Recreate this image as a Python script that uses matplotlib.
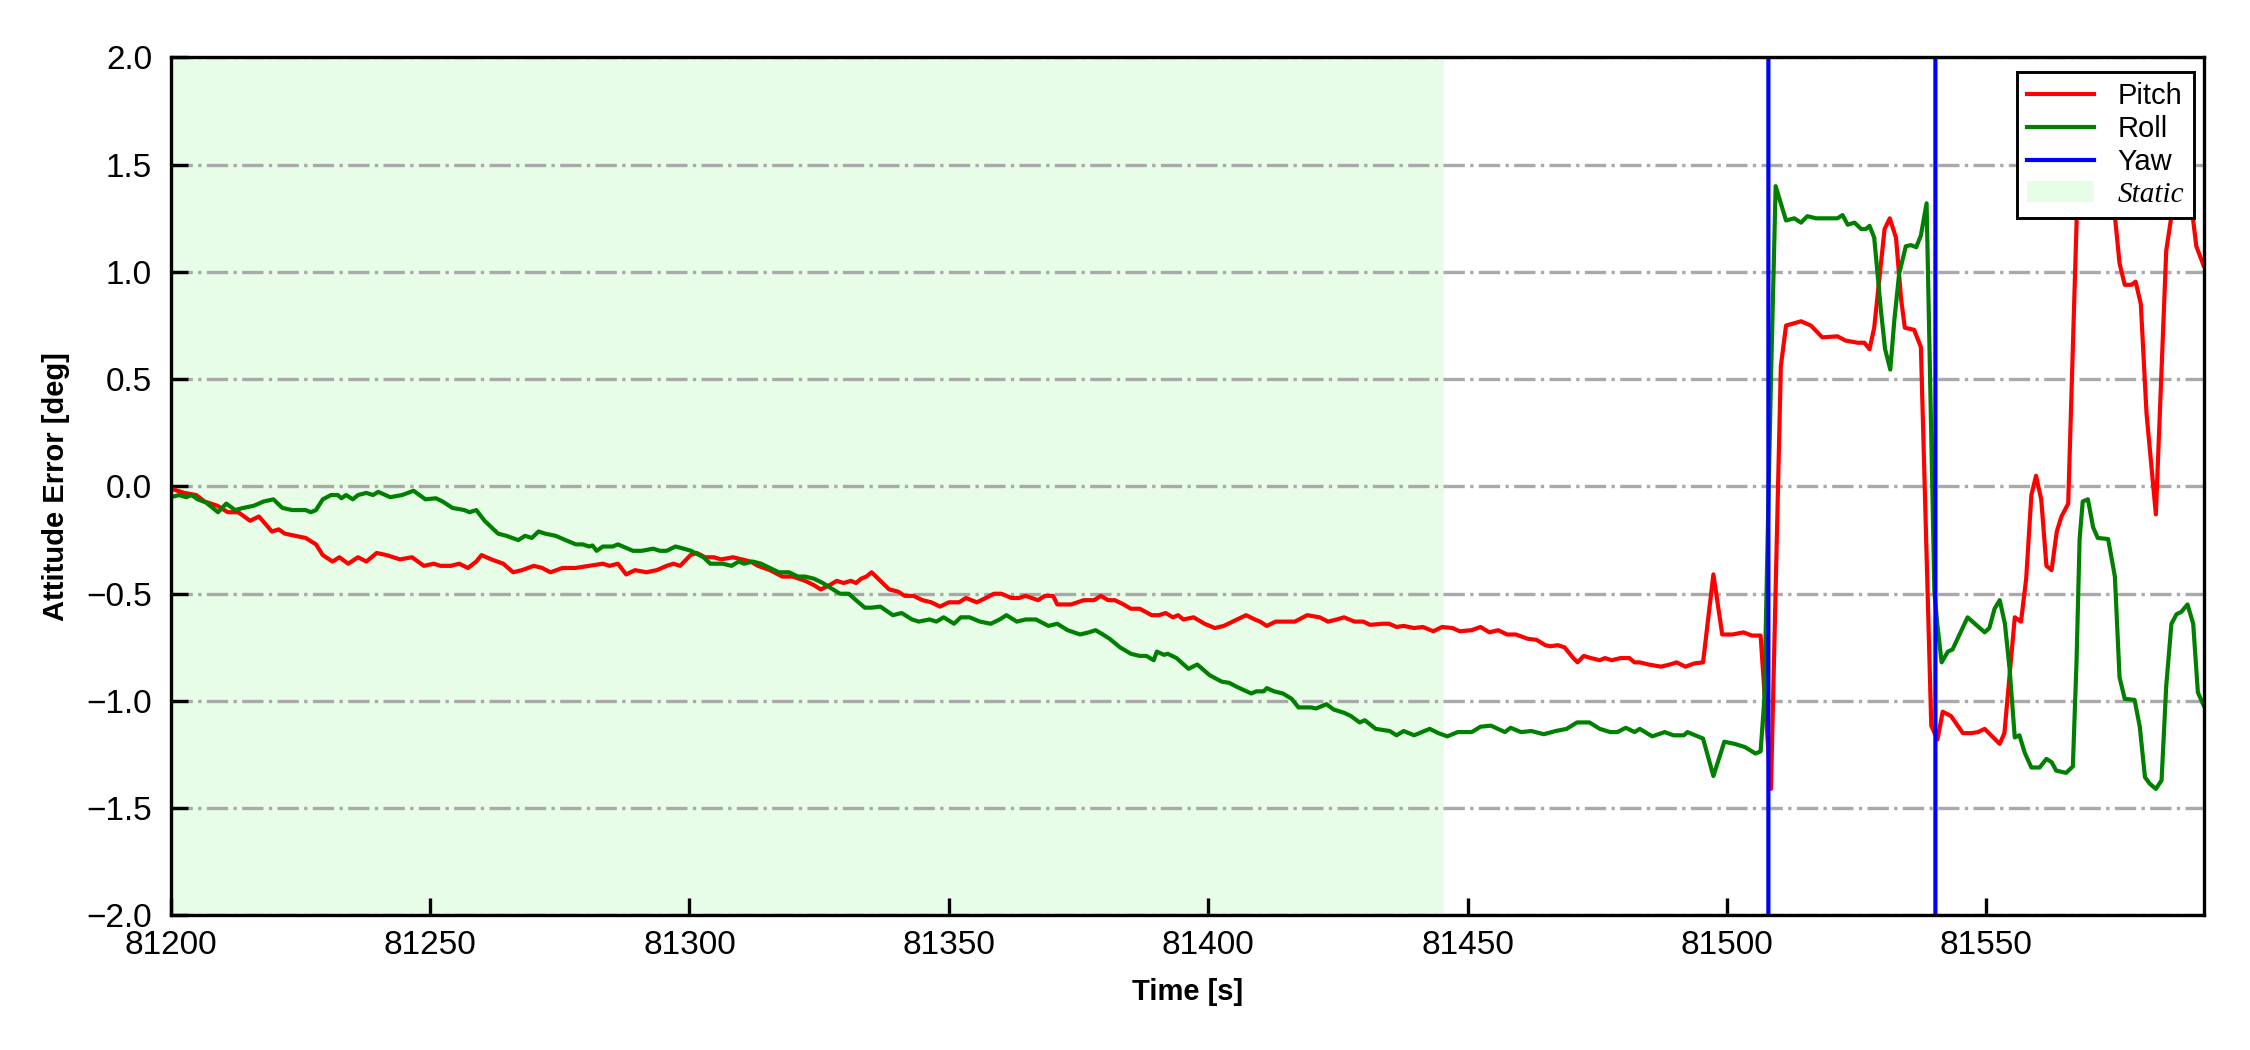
import matplotlib
matplotlib.use("Agg")
import matplotlib.pyplot as plt

plt.rcParams['font.family'] = ['Liberation Sans', 'DejaVu Sans']

# static alignment window and axis range
static_start, static_end = 81200, 81445.5
x_range = (81200, 81592)
y_range = (-2.0, 2.0)

# pitch error
t_pitch = [81200, 81202.6, 81204.9, 81206.5, 81209, 81211, 81213, 81215.3, 81217, 81219.5,
           81220.8, 81222, 81224, 81226, 81228, 81229.3, 81231.2, 81232.5, 81234.2, 81236.1,
           81237.7, 81239.7, 81241.6, 81244.2, 81246.5, 81248.8, 81250.7, 81252, 81254, 81255.6,
           81257.3, 81258.9, 81259.9, 81261.8, 81264.1, 81266, 81267.7, 81270, 81271.6, 81273.2,
           81275.5, 81278, 81280.7, 81283.3, 81284.6, 81286.2, 81287.8, 81289.5, 81291.7, 81293.7,
           81295.6, 81296.9, 81298.2, 81300.2, 81301.4, 81303, 81304.7, 81306.1, 81308.4, 81310.1,
           81311.8, 81313.2, 81315.5, 81317.9, 81319.9, 81322.3, 81324, 81325.3, 81327, 81328.4,
           81329.7, 81331.1, 81332.1, 81333.1, 81334.1, 81335.1, 81336.8, 81338.5, 81340.2, 81341.5,
           81343.2, 81344.9, 81346.6, 81348.3, 81350, 81352, 81353.3, 81355.4, 81357.1, 81358.7,
           81360.1, 81362.1, 81363.5, 81364.8, 81367.2, 81368.5, 81370.1, 81370.9, 81372.2, 81373.6,
           81376, 81378, 81379.3, 81380.7, 81382, 81383.7, 81385.1, 81386.8, 81389.1, 81390.5,
           81391.8, 81393.2, 81394.2, 81395.2, 81397.2, 81399.3, 81401.3, 81403, 81405.6, 81407.3,
           81409, 81410, 81411.3, 81413, 81415, 81416.7, 81419.1, 81421.5, 81423.1, 81424.8,
           81426.2, 81428.2, 81429.9, 81431.2, 81433.6, 81434.9, 81436.3, 81437.7, 81439.7, 81441.4,
           81443.4, 81445.1, 81447.1, 81448.5, 81450.8, 81452.5, 81454.2, 81455.9, 81457.6, 81459.3,
           81461.6, 81463.3, 81465, 81466, 81467.4, 81468.7, 81470.4, 81471.2, 81472.4, 81473.8,
           81475.5, 81476.5, 81477.8, 81479.5, 81481.2, 81482.2, 81483.2, 81484.9, 81487.3, 81489,
           81490.3, 81492, 81493.7, 81495.4, 81497.4, 81499.1, 81501.1, 81503.2, 81504.8, 81506.5,
           81508.5, 81510.4, 81511.4, 81514.3, 81516.2, 81518.4, 81521.3, 81522.9, 81525.2, 81526.5,
           81527.5, 81528.4, 81530.4, 81531.4, 81532.6, 81533.6, 81534.3, 81536.1, 81537.4, 81539.4,
           81540.6, 81541.6, 81543.2, 81545.5, 81547.1, 81548.4, 81549.7, 81552.6, 81553.5, 81555.5,
           81556.7, 81557.7, 81558.7, 81559.6, 81560.6, 81561.6, 81562.6, 81563.6, 81564.5, 81565.8,
           81567.5, 81569, 81571, 81573, 81574.8, 81575.7, 81576.7, 81578, 81578.8, 81579.8,
           81580.9, 81582.7, 81584.7, 81585.7, 81587.5, 81589.5, 81590.5, 81591.9]
pitch = [-0.01, -0.03, -0.04, -0.07, -0.09, -0.12, -0.12, -0.16, -0.14, -0.21,
         -0.20, -0.22, -0.23, -0.24, -0.27, -0.32, -0.35, -0.33, -0.36, -0.33,
         -0.35, -0.31, -0.32, -0.34, -0.33, -0.37, -0.36, -0.37, -0.37, -0.36,
         -0.38, -0.35, -0.32, -0.34, -0.36, -0.40, -0.39, -0.37, -0.38, -0.40,
         -0.38, -0.38, -0.37, -0.36, -0.37, -0.36, -0.41, -0.39, -0.40, -0.39,
         -0.37, -0.36, -0.37, -0.32, -0.31, -0.33, -0.33, -0.34, -0.33, -0.34,
         -0.35, -0.37, -0.39, -0.42, -0.42, -0.44, -0.46, -0.48, -0.46, -0.44,
         -0.45, -0.44, -0.45, -0.43, -0.42, -0.40, -0.44, -0.48, -0.49, -0.51,
         -0.51, -0.53, -0.54, -0.56, -0.54, -0.54, -0.52, -0.54, -0.52, -0.50,
         -0.50, -0.52, -0.52, -0.51, -0.53, -0.51, -0.51, -0.55, -0.55, -0.55,
         -0.53, -0.53, -0.51, -0.53, -0.53, -0.55, -0.57, -0.57, -0.60, -0.60,
         -0.59, -0.61, -0.60, -0.62, -0.61, -0.64, -0.66, -0.65, -0.62, -0.60,
         -0.62, -0.63, -0.65, -0.63, -0.63, -0.63, -0.60, -0.61, -0.63, -0.62,
         -0.61, -0.63, -0.63, -0.645, -0.64, -0.64, -0.655, -0.65, -0.66, -0.655,
         -0.675, -0.655, -0.66, -0.675, -0.67, -0.655, -0.68, -0.67, -0.69, -0.69,
         -0.71, -0.715, -0.74, -0.745, -0.74, -0.75, -0.80, -0.82, -0.79, -0.80,
         -0.81, -0.80, -0.81, -0.80, -0.80, -0.82, -0.82, -0.83, -0.84, -0.83,
         -0.82, -0.84, -0.825, -0.82, -0.41, -0.69, -0.69, -0.68, -0.695, -0.695,
         -1.41, 0.56, 0.75, 0.77, 0.75, 0.695, 0.70, 0.68, 0.67, 0.67,
         0.64, 0.74, 1.20, 1.25, 1.16, 0.87, 0.74, 0.73, 0.65, -1.115,
         -1.18, -1.05, -1.07, -1.15, -1.15, -1.145, -1.13, -1.20, -1.15, -0.61,
         -0.63, -0.43, -0.04, 0.05, -0.06, -0.37, -0.39, -0.21, -0.14, -0.08,
         1.30, 1.70, 1.80, 1.60, 1.26, 1.04, 0.94, 0.94, 0.955, 0.85,
         0.34, -0.13, 1.10, 1.26, 1.45, 1.32, 1.12, 1.03]

# roll error
t_roll = [81200, 81201.6, 81203, 81204, 81205.2, 81206.8, 81208.1, 81209.1, 81210.7, 81212.4,
          81214, 81216, 81217.9, 81219.8, 81221.5, 81223.4, 81225, 81226, 81227, 81228,
          81229.3, 81230.9, 81232.2, 81232.9, 81233.8, 81235.1, 81236.1, 81237.7, 81239, 81240,
          81242.3, 81244.6, 81246.8, 81249.1, 81251.1, 81252.4, 81254.3, 81256.6, 81257.6, 81258.9,
          81260.5, 81263.1, 81264.7, 81267, 81268.3, 81269.6, 81270.9, 81272.2, 81274.2, 81276.1,
          81278.1, 81279.4, 81280.7, 81281.3, 81282.1, 81283.3, 81285.2, 81286.2, 81289.1, 81290.8,
          81293, 81294.3, 81295.6, 81297.3, 81298.9, 81300.3, 81302.7, 81304, 81306.4, 81308.1,
          81309.5, 81310.5, 81312.2, 81313.8, 81315.5, 81317.2, 81319.2, 81320.9, 81322.3, 81324,
          81325.7, 81327.7, 81329, 81330.7, 81332.1, 81333.8, 81335.1, 81336.8, 81339.2, 81340.9,
          81342.9, 81344.2, 81346.3, 81347.6, 81349, 81351, 81352.3, 81354, 81356, 81358.1,
          81359.8, 81361.1, 81363.1, 81364.8, 81366.8, 81369.2, 81370.9, 81372.9, 81375.3, 81377,
          81378.3, 81379.7, 81381, 81383, 81385.1, 81386.8, 81388.1, 81389.5, 81390.1, 81391.5,
          81392.2, 81393.9, 81396.2, 81397.9, 81400.3, 81402.6, 81404, 81405.6, 81408.3, 81409.3,
          81410.7, 81411.3, 81412.7, 81414.4, 81416.1, 81417.4, 81419.8, 81420.8, 81422.8, 81424.2,
          81426.2, 81427.5, 81429.2, 81430.2, 81432.3, 81435, 81436.3, 81437.7, 81439.7, 81442.7,
          81444.4, 81446.1, 81448.1, 81450.8, 81452.5, 81454.5, 81457.2, 81458.3, 81460.3, 81462.3,
          81464.7, 81467, 81469.1, 81471.1, 81473.5, 81475.5, 81477.5, 81478.9, 81480.5, 81482.2,
          81483.2, 81485.6, 81488, 81489.7, 81491.7, 81492.4, 81495.4, 81497.4, 81499.5, 81501.5,
          81503.5, 81505.5, 81506.5, 81507.2, 81508.5, 81509.4, 81511.4, 81513, 81514.3, 81515.5,
          81517.2, 81519, 81521.3, 81522.3, 81523.3, 81524.6, 81525.9, 81526.8, 81527.5, 81528.4,
          81529.7, 81530.5, 81531.5, 81532.3, 81533.2, 81534.5, 81535.5, 81536.5, 81537.4, 81538.5,
          81540, 81540.6, 81541.4, 81542.6, 81543.5, 81546.4, 81549.7, 81550.6, 81551.6, 81552.6,
          81553.6, 81554.5, 81555.5, 81556.4, 81557.4, 81558.7, 81560.3, 81561.6, 81562.6, 81563.5,
          81565.4, 81566.7, 81567.4, 81568, 81568.6, 81569.6, 81570.6, 81571.5, 81573.5, 81574.8,
          81575.7, 81576.7, 81578.6, 81579.6, 81580.6, 81581.5, 81582.7, 81583.8, 81584.7, 81585.7,
          81586.7, 81587.6, 81588.8, 81589.9, 81590.8, 81591.9]
roll = [-0.05, -0.04, -0.05, -0.04, -0.06, -0.075, -0.10, -0.12, -0.08, -0.11,
        -0.10, -0.09, -0.07, -0.06, -0.10, -0.11, -0.11, -0.11, -0.12, -0.11,
        -0.06, -0.04, -0.04, -0.055, -0.04, -0.06, -0.04, -0.03, -0.04, -0.025,
        -0.05, -0.04, -0.02, -0.06, -0.055, -0.07, -0.10, -0.11, -0.12, -0.11,
        -0.16, -0.22, -0.23, -0.25, -0.23, -0.24, -0.21, -0.22, -0.23, -0.25,
        -0.27, -0.27, -0.28, -0.275, -0.30, -0.28, -0.28, -0.27, -0.30, -0.30,
        -0.29, -0.30, -0.30, -0.28, -0.29, -0.30, -0.33, -0.36, -0.36, -0.37,
        -0.35, -0.36, -0.35, -0.36, -0.38, -0.40, -0.40, -0.42, -0.42, -0.43,
        -0.45, -0.48, -0.50, -0.50, -0.53, -0.565, -0.565, -0.56, -0.60, -0.59,
        -0.62, -0.63, -0.62, -0.63, -0.61, -0.64, -0.61, -0.61, -0.63, -0.64,
        -0.62, -0.60, -0.63, -0.62, -0.62, -0.65, -0.64, -0.67, -0.69, -0.68,
        -0.67, -0.69, -0.71, -0.75, -0.78, -0.79, -0.79, -0.81, -0.77, -0.785,
        -0.78, -0.80, -0.85, -0.83, -0.88, -0.91, -0.915, -0.935, -0.965, -0.955,
        -0.955, -0.94, -0.955, -0.965, -0.99, -1.03, -1.03, -1.035, -1.015, -1.04,
        -1.055, -1.07, -1.10, -1.09, -1.13, -1.14, -1.16, -1.14, -1.16, -1.13,
        -1.15, -1.165, -1.145, -1.145, -1.12, -1.115, -1.145, -1.125, -1.145, -1.14,
        -1.155, -1.14, -1.13, -1.10, -1.10, -1.13, -1.145, -1.145, -1.125, -1.145,
        -1.13, -1.165, -1.145, -1.16, -1.16, -1.145, -1.175, -1.35, -1.19, -1.20,
        -1.215, -1.245, -1.235, -1.00, 0.50, 1.40, 1.24, 1.25, 1.23, 1.26,
        1.25, 1.25, 1.25, 1.265, 1.22, 1.23, 1.20, 1.20, 1.215, 1.16,
        0.82, 0.64, 0.545, 0.78, 0.99, 1.12, 1.125, 1.115, 1.17, 1.32,
        -0.49, -0.65, -0.82, -0.77, -0.76, -0.61, -0.68, -0.66, -0.57, -0.53,
        -0.64, -0.85, -1.17, -1.16, -1.24, -1.31, -1.31, -1.27, -1.285, -1.325,
        -1.335, -1.305, -0.82, -0.245, -0.07, -0.06, -0.19, -0.24, -0.245, -0.42,
        -0.89, -0.99, -0.995, -1.12, -1.355, -1.385, -1.41, -1.37, -0.93, -0.64,
        -0.595, -0.585, -0.55, -0.64, -0.96, -1.02]

# yaw error stays off scale, only its wrap-arounds cross the window
t_yaw = [81200, 81507.9, 81508.1, 81540.1, 81540.3, 81592]
yaw = [-179.5, -179.5, 179.5, 179.5, -179.5, -179.5]

fig = plt.figure(figsize=(7.5, 3.5), dpi=300)
ax = fig.add_axes([0.0759, 0.1281, 0.9037, 0.8172])

ax.axvspan(static_start, static_end, color='#e8fde8', lw=0, label='Static')
ax.plot(t_pitch, pitch, color='r', lw=1.0, label='Pitch')
ax.plot(t_roll, roll, color='g', lw=1.0, label='Roll')
ax.plot(t_yaw, yaw, color='b', lw=1.0, label='Yaw')

ax.set_xlim(*x_range)
ax.set_ylim(*y_range)
ax.set_xticks([81200, 81250, 81300, 81350, 81400, 81450, 81500, 81550])
ax.set_yticks([-2.0, -1.5, -1.0, -0.5, 0.0, 0.5, 1.0, 1.5, 2.0])
ax.yaxis.grid(True, linestyle='-.', color='darkgray', lw=0.8)
ax.tick_params(direction='in', length=4, width=0.8, labelsize=8)
ax.tick_params(axis='y', pad=4.5)
for s in ax.spines.values():
    s.set_linewidth(0.8)

ax.set_xlabel('Time [s]', fontsize=7, fontweight='bold')
ax.set_ylabel('Attitude Error [deg]', fontsize=7, fontweight='bold')

handles, labels = ax.get_legend_handles_labels()
order = [1, 2, 3, 0]
leg = ax.legend([handles[i] for i in order], [labels[i] for i in order],
                loc='upper right', bbox_to_anchor=(0.995, 0.983), borderaxespad=0,
                fontsize=7, labelspacing=0.17, handlelength=2.3, handletextpad=0.8,
                borderpad=0.35, fancybox=False, framealpha=1, edgecolor='black')
leg.get_frame().set_linewidth(0.7)
leg.get_texts()[3].set_fontfamily('Liberation Serif')
leg.get_texts()[3].set_fontstyle('italic')

fig.savefig('out.png', dpi=300)
